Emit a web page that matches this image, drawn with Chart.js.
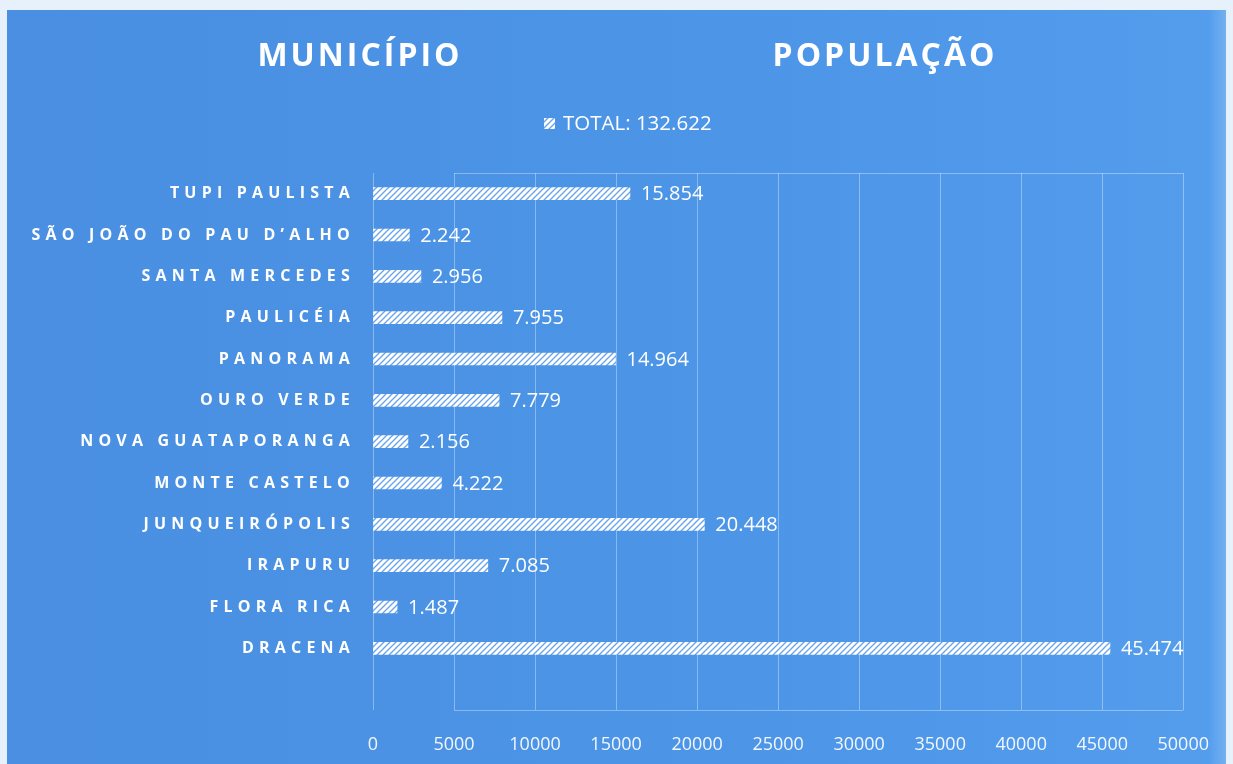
<!DOCTYPE html>
<html>
<head>
<meta charset="utf-8">
<script src="https://cdn.jsdelivr.net/npm/chart.js@4/dist/chart.umd.min.js"></script>
<style>
  html, body { margin: 0; padding: 0; background: #dcebf8; }
  #c { display: block; }
</style>
</head>
<body>
<canvas id="c" width="1233" height="764"></canvas>
<script>
// data
const municipios = [
  "DRACENA", "FLORA RICA", "IRAPURU", "JUNQUEIRÓPOLIS", "MONTE CASTELO",
  "NOVA GUATAPORANGA", "OURO VERDE", "PANORAMA", "PAULICÉIA",
  "SANTA MERCEDES", "SÃO JOÃO DO PAU D’ALHO", "TUPI PAULISTA",
];
const populacao = [45474, 1487, 7085, 20448, 4222, 2156, 7779, 14964, 7955, 2956, 2242, 15854];
const serieLabel = "TOTAL: 132.622";
const titulos = ["MUNICÍPIO", "POPULAÇÃO"];
const xMin = 0;
const xMax = 50000;
const xStep = 5000;

const FONT = "'Open Sans', 'Noto Sans', sans-serif";

const fmt = (n) => String(n).replace(/\B(?=(\d{3})+(?!\d))/g, ".");

function hatch() {
  const s = 6;
  const p = document.createElement("canvas");
  p.width = s;
  p.height = s;
  const c = p.getContext("2d");
  c.fillStyle = "#ffffff";
  c.fillRect(0, 0, s, s);
  c.strokeStyle = "rgba(75,147,229,0.85)";
  c.lineWidth = 1.3;
  c.beginPath();
  c.moveTo(0, s); c.lineTo(s, 0);
  c.moveTo(-1, 1); c.lineTo(1, -1);
  c.moveTo(s - 1, s + 1); c.lineTo(s + 1, s - 1);
  c.stroke();
  return c.createPattern(p, "repeat");
}

const canvas = document.getElementById("c");
const pattern = hatch();
const TICK_LEN = 41;

const decor = {
  id: "decor",
  beforeDraw(chart) {
    const { ctx, width, height } = chart;
    ctx.save();
    ctx.fillStyle = "#e6f1fb";
    ctx.fillRect(0, 0, width, height);
    const g = ctx.createLinearGradient(0, 0, width, 0);
    g.addColorStop(0, "#4a8fe1");
    g.addColorStop(0.6, "#4c95e7");
    g.addColorStop(0.98, "#549ded");
    g.addColorStop(1, "#7fb8f0");
    ctx.fillStyle = g;
    ctx.fillRect(7, 10, width - 14, height - 10);

    // titles
    ctx.fillStyle = "#ffffff";
    ctx.font = `bold 32px ${FONT}`;
    ctx.textAlign = "center";
    ctx.textBaseline = "middle";
    ctx.letterSpacing = "3px";
    ctx.fillText(titulos[0], 360, 57);
    ctx.fillText(titulos[1], 885, 57);
    ctx.letterSpacing = "0px";

    // legend
    ctx.fillStyle = pattern;
    ctx.fillRect(544, 118, 11, 11);
    ctx.fillStyle = "#ffffff";
    ctx.font = `20.5px ${FONT}`;
    ctx.textAlign = "left";
    ctx.fillText(chart.data.datasets[0].label, 563, 124);
    ctx.restore();
  },
  afterDraw(chart) {
    const { ctx, chartArea, scales } = chart;
    const x = scales.x;
    const y = scales.y;
    ctx.save();
    // box lines top and bottom
    ctx.strokeStyle = "rgba(255,255,255,0.35)";
    ctx.lineWidth = 1;
    const x0 = x.getPixelForValue(xStep);
    const x1 = x.getPixelForValue(xMax);
    ctx.beginPath();
    ctx.moveTo(x0, chartArea.top + 0.5);
    ctx.lineTo(x1, chartArea.top + 0.5);
    ctx.moveTo(x0, chartArea.bottom + TICK_LEN + 0.5);
    ctx.lineTo(x1, chartArea.bottom + TICK_LEN + 0.5);
    ctx.stroke();

    // category labels, spaced out
    ctx.fillStyle = "#ffffff";
    ctx.font = `bold 16px ${FONT}`;
    ctx.textAlign = "right";
    ctx.textBaseline = "middle";
    ctx.letterSpacing = "5.2px";
    chart.data.labels.forEach((lab, i) => {
      ctx.fillText(lab, chartArea.left - 18, y.getPixelForValue(i));
    });
    ctx.letterSpacing = "0px";

    // value labels
    ctx.font = `20px ${FONT}`;
    ctx.textAlign = "left";
    const meta = chart.getDatasetMeta(0);
    meta.data.forEach((bar, i) => {
      ctx.fillText(fmt(chart.data.datasets[0].data[i]), bar.x + 11, bar.y + 1);
    });
    ctx.restore();
  },
};

new Chart(canvas, {
  type: "bar",
  data: {
    labels: municipios,
    datasets: [
      {
        label: serieLabel,
        data: populacao,
        backgroundColor: pattern,
        borderWidth: 0,
        barThickness: 12,
      },
    ],
  },
  options: {
    indexAxis: "y",
    responsive: false,
    animation: false,
    layout: { padding: { left: 373, right: 47, top: 173, bottom: 0 } },
    plugins: {
      legend: { display: false },
      tooltip: { enabled: false },
    },
    scales: {
      x: {
        min: xMin,
        max: xMax,
        afterFit: (scale) => { scale.height = 95; },
        ticks: {
          stepSize: xStep,
          color: "rgba(255,255,255,0.92)",
          font: { family: FONT, size: 18 },
          padding: 24,
          maxRotation: 0,
          callback: (v) => String(v),
        },
        grid: {
          color: "rgba(255,255,255,0.35)",
          tickLength: TICK_LEN,
          tickColor: "rgba(255,255,255,0.35)",
        },
        border: { display: false },
      },
      y: {
        display: false,
        reverse: true,
      },
    },
  },
  plugins: [decor],
});
</script>
</body>
</html>
